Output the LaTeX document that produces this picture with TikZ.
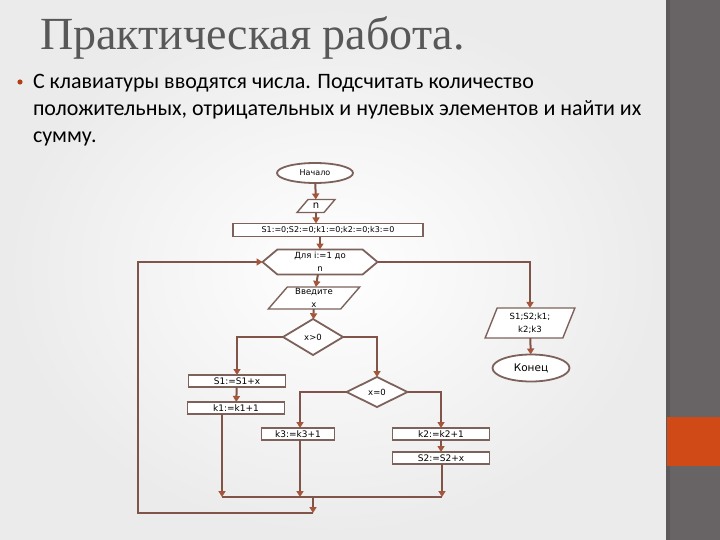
\documentclass[tikz,border=0pt]{standalone}
\usepackage{fontspec}
\setmainfont{Carlito}
\newfontfamily\titlefont{Liberation Serif}
\newfontfamily\chartfont{DejaVu Sans}
\usetikzlibrary{shapes.geometric,shapes.symbols,arrows.meta}
\definecolor{ln}{RGB}{128,84,72}
\definecolor{ah}{RGB}{165,85,58}
\definecolor{bx}{RGB}{125,98,92}
\definecolor{strip}{RGB}{104,99,100}
\definecolor{stripline}{RGB}{92,89,90}
\definecolor{orng}{RGB}{208,74,24}
\definecolor{ttl}{RGB}{88,88,88}
\begin{document}
\begin{tikzpicture}[x=1pt,y=-1pt,
  every node/.style={inner sep=0pt, outer sep=0pt},
  lbl/.style={font=\chartfont\fontsize{8.5}{13}\selectfont, text=black, align=center},
  box/.style={lbl, draw=bx, line width=1.4pt, fill=white, rectangle, minimum height=12pt, minimum width=#1, font=\chartfont\fontsize{9}{11}\selectfont},
  term/.style={lbl, draw=bx, line width=1.8pt, fill=white, ellipse, minimum width=#1},
  para/.style={lbl, draw=bx, line width=1.4pt, fill=white, trapezium, trapezium stretches=true,
     trapezium left angle=#1, trapezium right angle=180-#1},
  cond/.style={lbl, draw=bx, line width=1.8pt, fill=white, diamond},
  hexa/.style={lbl, draw=bx, line width=1.8pt, fill=white, signal, signal to=west and east, signal pointer angle=80},
  flow/.style={draw=ln, line width=2pt},
  arr/.style={flow, -{Triangle[width=7pt,length=6pt,color=ah]}},
  bodytxt/.style={anchor=base west, font=\fontsize{22}{27}\selectfont, text=black}
]
\useasboundingbox (0,0) rectangle (720,540);
% background
\shade[inner color=white, outer color=gray!16] (0,0) rectangle (667,540);
\fill[strip] (667,0) rectangle (720,540);
\fill[stripline] (666,0) rectangle (670,540);
\fill[orng] (667,417) rectangle (720,466);

% title and task
\node[anchor=base west, font=\titlefont\fontsize{46}{46}\selectfont, text=ttl] (title) at (40,50) {Практическая работа.};
\fill[orng!85!black] (20,82) circle (2.6pt);
\node[bodytxt] (t1) at (33,89) {С клавиатуры вводятся числа. Подсчитать количество};
\node[bodytxt] (t2) at (33,116) {положительных, отрицательных и нулевых элементов и найти их};
\node[bodytxt] (t3) at (33,143) {сумму.};

% flowchart nodes
\node[term=76pt, minimum height=20pt, font=\chartfont\fontsize{8}{10}\selectfont] (start) at (315,173) {Начало};
\node[para=52, minimum width=38pt, minimum height=13pt, font=\chartfont\fontsize{10}{12}\selectfont] (n) at (316,206) {n};
\node[box=190pt, minimum height=13pt, font=\chartfont\fontsize{8}{10}\selectfont] (init) at (328,230) {S1:=0;S2:=0;k1:=0;k2:=0;k3:=0};
\node[hexa, minimum width=115pt, minimum height=25pt] (loop) at (320,262) {Для i:=1 до\\n};
\node[para=55, minimum width=92pt, minimum height=22pt] (inp) at (314,298) {Введите\\x};
\node[cond, minimum width=60pt, minimum height=36pt] (d1) at (313,337) {x>0};
\node[box=97pt] (s1) at (237,381) {S1:=S1+x};
\node[box=97pt] (k1) at (236,408) {k1:=k1+1};
\node[cond, minimum width=61pt, minimum height=30pt] (d2) at (377,392) {x=0};
\node[box=73pt] (k3) at (298,434) {k3:=k3+1};
\node[box=97pt] (k2) at (441,434) {k2:=k2+1};
\node[box=97pt] (s2) at (441,458) {S2:=S2+x};
\node[para=70, minimum width=90pt, minimum height=30pt] (out) at (530,323) {S1;S2;k1;\\k2;k3};
\node[term=77pt, minimum height=27pt, font=\chartfont\fontsize{10.5}{12}\selectfont] (end) at (531,368) {Конец};

% junction coordinates
\coordinate (j1) at (222,497);
\coordinate (j3) at (300,497);
\coordinate (j2) at (442,497);
\coordinate (jm) at (313,497);
\coordinate (jb) at (313,513);
\coordinate (lc) at (138,513);

% connectors
\draw[arr] (start) -- (n);
\draw[arr] (n.south) -- (n.south |- init.north);
\draw[arr] (init.south -| loop.north) -- (loop.north);
\draw[arr] (loop) -- (inp);
\draw[arr] (inp) -- (d1);
\draw[arr] (d1.west) -| (s1.north);
\draw[arr] (s1) -- (k1);
\draw[arr] (d1.east) -| (d2.north);
\draw[arr] (d2.west) -| (j3 |- k3.north);
\draw[arr] (d2.east) -| (k2.north);
\draw[arr] (k2) -- (s2);
\draw[arr] (j1 |- k1.south) -- (j1);
\draw[arr] (j3 |- k3.south) -- (j3);
\draw[arr] (s2.south -| j2) -- (j2);
\draw[flow] (j1) -- (j2);
\draw[arr] (jm) -- (jb);
\draw[arr] (jb) -- (lc) |- (loop.west);
\draw[arr] (loop.east) -| (out.north);
\draw[arr] (out) -- (end);
\end{tikzpicture}
\end{document}
